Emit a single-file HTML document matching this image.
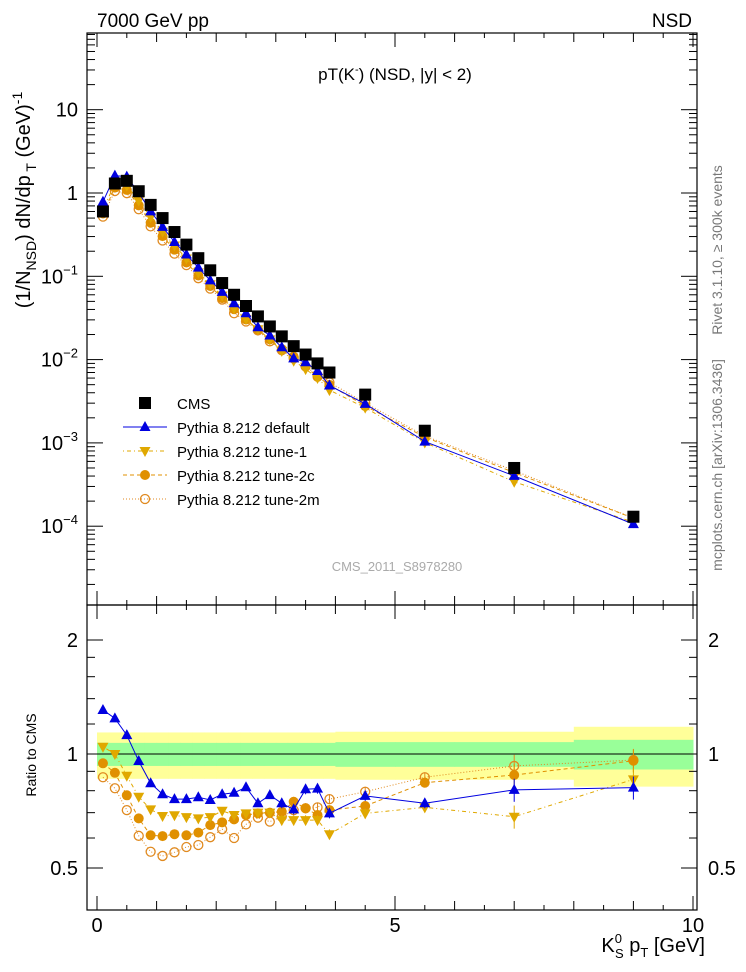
<!DOCTYPE html>
<html><head><meta charset="utf-8"><style>
body{margin:0;background:#fff;}
svg{display:block;font-family:"Liberation Sans",sans-serif;}
</style></head><body>
<svg id="c" width="746" height="972" viewBox="0 0 746 972" xmlns="http://www.w3.org/2000/svg">
<text x="97" y="27" font-size="19">7000 GeV pp</text>
<text x="692" y="27" font-size="19" text-anchor="end">NSD</text>
<text x="395" y="80" font-size="17" text-anchor="middle">pT(K<tspan font-size="11" dy="-7">-</tspan><tspan dy="7">) (NSD, |y| &lt; 2)</tspan></text>
<text x="397" y="571" font-size="13" fill="#aaa" text-anchor="middle">CMS_2011_S8978280</text>
<text transform="translate(722,250) rotate(-90)" font-size="14" fill="#777" text-anchor="middle">Rivet 3.1.10, ≥ 300k events</text>
<text transform="translate(722,465) rotate(-90)" font-size="14" fill="#777" text-anchor="middle">mcplots.cern.ch [arXiv:1306.3436]</text>
<text transform="translate(30,200) rotate(-90)" font-size="20" text-anchor="middle">(1/N<tspan font-size="14" dy="6">NSD</tspan><tspan dy="-6">) dN/dp</tspan><tspan font-size="14" dy="6"> T</tspan><tspan dy="-6"> (GeV)</tspan><tspan font-size="14" dy="-8">-1</tspan></text>
<text transform="translate(36,755) rotate(-90)" font-size="14" text-anchor="middle">Ratio to CMS</text>
<text x="705" y="952" font-size="20" text-anchor="end">K<tspan font-size="13" dy="-9">0</tspan><tspan font-size="13" dx="-7" dy="15">S</tspan><tspan dy="-6"> p</tspan><tspan font-size="13" dy="5">T</tspan><tspan dy="-5"> [GeV]</tspan></text>
</svg>
<script>
const xs=[0.1,0.3,0.5,0.7,0.9,1.1,1.3,1.5,1.7,1.9,2.1,2.3,2.5,2.7,2.9,3.1,3.3,3.5,3.7,3.9,4.5,5.5,7,9];
const xLo=[0,0.2,0.4,0.6,0.8,1.0,1.2,1.4,1.6,1.8,2.0,2.2,2.4,2.6,2.8,3.0,3.2,3.4,3.6,3.8,4.0,5.0,6.0,8.0];
const xHi=[0.2,0.4,0.6,0.8,1.0,1.2,1.4,1.6,1.8,2.0,2.2,2.4,2.6,2.8,3.0,3.2,3.4,3.6,3.8,4.0,5.0,6.0,8.0,10.0];
const cms=[0.6,1.3,1.4,1.05,0.72,0.5,0.34,0.24,0.165,0.118,0.083,0.06,0.044,0.033,0.025,0.019,0.0145,0.0115,0.009,0.007,0.0038,0.0014,0.0005,0.00013];
const errStat=[0.07,0.07,0.07,0.07,0.07,0.07,0.07,0.07,0.07,0.07,0.07,0.07,0.07,0.07,0.07,0.07,0.07,0.07,0.07,0.07,0.075,0.075,0.075,0.09];
const errTot=[0.14,0.14,0.14,0.14,0.14,0.14,0.14,0.14,0.14,0.14,0.14,0.14,0.14,0.14,0.14,0.14,0.14,0.14,0.14,0.14,0.145,0.145,0.145,0.18];
const rDef=[1.307,1.242,1.122,0.958,0.837,0.783,0.76,0.76,0.769,0.756,0.783,0.79,0.817,0.741,0.779,0.741,0.714,0.807,0.81,0.697,0.775,0.741,0.804,0.815];
const rT1=[1.045,1.0,0.876,0.771,0.714,0.686,0.689,0.681,0.676,0.681,0.708,0.69,0.697,0.70,0.70,0.669,0.669,0.669,0.669,0.614,0.697,0.723,0.683,0.857];
const r2c=[0.945,0.892,0.778,0.676,0.61,0.607,0.614,0.61,0.62,0.649,0.66,0.672,0.69,0.697,0.70,0.704,0.748,0.719,0.69,0.711,0.729,0.84,0.88,0.96];
const r2m=[0.868,0.812,0.711,0.608,0.552,0.538,0.55,0.568,0.575,0.603,0.633,0.60,0.652,0.679,0.663,0.683,0.711,0.719,0.723,0.76,0.795,0.868,0.93,0.964];
const xTicks=[0,5,10];
const yTicksMain=[-4,-3,-2,-1,0,1];
const yTicksRatio=[0.5,1,2];

const NS='http://www.w3.org/2000/svg';
const svg=document.getElementById('c');
const X=v=>97+v*59.6;
const Y=v=>193-Math.log10(v)*83.3;
const R=v=>754-Math.log2(v)*114;
const L=87,Rt=697,T=33,M=605,B=910;
function mk(tag,at,parent){const e=document.createElementNS(NS,tag);for(const k in at)e.setAttribute(k,at[k]);(parent||svg).appendChild(e);return e;}

const gb=mk('g',{});


xs.forEach((x,i)=>{
  const r1=mk('rect',{x:X(xLo[i]),y:R(1+errTot[i]),width:X(xHi[i])-X(xLo[i])+0.5,height:R(1-errTot[i])-R(1+errTot[i]),fill:'#ffff99'},gb);
  
  
});
xs.forEach((x,i)=>{
  const r2=mk('rect',{x:X(xLo[i]),y:R(1+errStat[i]),width:X(xHi[i])-X(xLo[i])+0.5,height:R(1-errStat[i])-R(1+errStat[i]),fill:'#99ff99'},gb);
  
  
});
mk('line',{x1:L,x2:Rt,y1:R(1),y2:R(1),stroke:'#000','stroke-width':1});

const fr=mk('g',{fill:'none',stroke:'#000','stroke-width':1.2});


mk('rect',{x:L,y:T,width:Rt-L,height:M-T},fr);
mk('rect',{x:L,y:M,width:Rt-L,height:B-M},fr);

for(let v=0;v<=10.01;v+=0.5){
  const len=(Math.abs(v%5)<0.01)?14:(Math.abs(v%1)<0.01?9:5);
  [M,B].forEach(yb=>{mk('line',{x1:X(v),x2:X(v),y1:yb,y2:yb-len,stroke:'#000'});});
  [T,M].forEach(yt=>{mk('line',{x1:X(v),x2:X(v),y1:yt,y2:yt+len,stroke:'#000'});});
}
xTicks.forEach(v=>{const t=mk('text',{x:X(v),y:932,'font-size':20,'text-anchor':'middle'});t.textContent=v;

});
for(let d=-5;d<=1;d++){for(let m=1;m<10;m++){const v=m*Math.pow(10,d);const y=Y(v);if(y<T||y>M)continue;
 const len=m==1?16:8;mk('line',{x1:L,x2:L+len,y1:y,y2:y,stroke:'#000'});mk('line',{x1:Rt,x2:Rt-len,y1:y,y2:y,stroke:'#000'});}}
yTicksMain.forEach(d=>{const t=mk('text',{x:78,y:Y(Math.pow(10,d))+7,'font-size':20,'text-anchor':'end'});
 if(d==0)t.textContent='1';else if(d==1)t.textContent='10';else{t.textContent='10';const s=mk('tspan',{'font-size':13,dy:-9},t);s.textContent=String(d).replace('-','−');}
 
 });
[0.5,0.6,0.7,0.8,0.9,1,2].forEach(v=>{const len=(v==0.5||v==1||v==2)?16:8;const y=R(v);
 mk('line',{x1:L,x2:L+len,y1:y,y2:y,stroke:'#000'});mk('line',{x1:Rt,x2:Rt-len,y1:y,y2:y,stroke:'#000'});});
[1.2,1.4,1.6,1.8].forEach(v=>{const y=R(v);mk('line',{x1:L,x2:L+8,y1:y,y2:y,stroke:'#000'});mk('line',{x1:Rt,x2:Rt-8,y1:y,y2:y,stroke:'#000'});});
yTicksRatio.forEach(v=>{[[78,'end'],[708,'start']].forEach(([xx,a])=>{const t=mk('text',{x:xx,y:R(v)+7,'font-size':20,'text-anchor':a});t.textContent=v;
 
 });});

const series=[
 {n:'pythia-default',r:rDef,c:'#0000e0',dash:'',m:'tri'},
 {n:'pythia-tune-1',r:rT1,c:'#e0a800',dash:'1 3 4 3',m:'itri'},
 {n:'pythia-tune-2c',r:r2c,c:'#e09000',dash:'4 3',m:'dot'},
 {n:'pythia-tune-2m',r:r2m,c:'#e08a20',dash:'1 2',m:'ring'}];
function marker(g,m,x,y,c){
 if(m=='tri')mk('polygon',{points:`${x},${y-6} ${x-5.5},${y+4} ${x+5.5},${y+4}`,fill:c},g);
 else if(m=='itri')mk('polygon',{points:`${x},${y+6} ${x-5.5},${y-4} ${x+5.5},${y-4}`,fill:c},g);
 else if(m=='dot')mk('circle',{cx:x,cy:y,r:5,fill:c},g);
 else if(m=='ring')mk('circle',{cx:x,cy:y,r:4.5,fill:'none',stroke:c,'stroke-width':1.3},g);
 else mk('rect',{x:x-6,y:y-6,width:12,height:12,fill:c},g);
}
series.slice().reverse().forEach(s=>{
 const g=mk('g',{});
 
 
 const pts=xs.map((x,i)=>[X(x),Y(cms[i]*s.r[i])]);
 mk('polyline',{points:pts.map(p=>p.join(',')).join(' '),fill:'none',stroke:s.c,'stroke-width':1,'stroke-dasharray':s.dash},g);
 pts.forEach(p=>marker(g,s.m,p[0],p[1],s.c));
 const g2=mk('g',{});
 
 
 const rp=xs.map((x,i)=>[X(x),R(s.r[i])]);
 mk('polyline',{points:rp.map(p=>p.join(',')).join(' '),fill:'none',stroke:s.c,'stroke-width':1,'stroke-dasharray':s.dash},g2);
 rp.forEach((p,i)=>{if(i>=15){const e=i>=22?0.07:0.03;mk('line',{x1:p[0],x2:p[0],y1:R(s.r[i]*(1+e)),y2:R(s.r[i]*(1-e)),stroke:s.c},g2);}
  marker(g2,s.m,p[0],p[1],s.c);});
});
const gc=mk('g',{});


xs.forEach((x,i)=>marker(gc,'sq',X(x),Y(cms[i]),'#000'));

const leg=[['CMS','#000','sq',''],['Pythia 8.212 default','#0000e0','tri',''],['Pythia 8.212 tune-1','#e0a800','itri','1 3 4 3'],['Pythia 8.212 tune-2c','#e09000','dot','4 3'],['Pythia 8.212 tune-2m','#e08a20','ring','1 2']];
leg.forEach((l,i)=>{const y=403+i*24;const g=mk('g',{});
 
 
 if(i>0)mk('line',{x1:123,x2:167,y1:y,y2:y,stroke:l[1],'stroke-dasharray':l[3]},g);
 marker(g,l[2],145,y,l[1]);
 const t=mk('text',{x:177,y:y+6,'font-size':15},g);t.textContent=l[0];});
</script>
</body></html>
